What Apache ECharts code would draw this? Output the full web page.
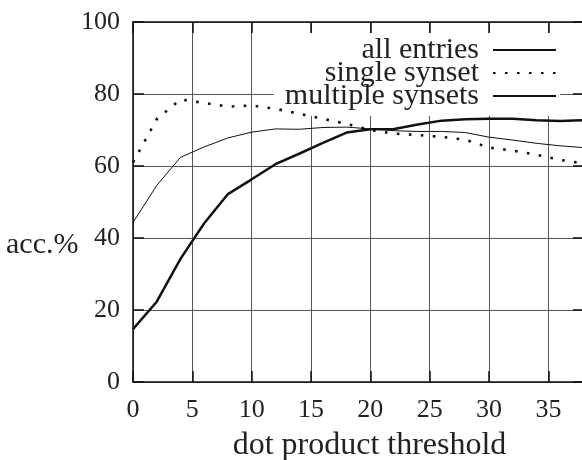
<!DOCTYPE html>
<html>
<head>
<meta charset="utf-8">
<script src="https://cdn.jsdelivr.net/npm/echarts@6/dist/echarts.min.js"></script>
<style>
  html, body { margin: 0; padding: 0; background: #fff; }
  #chart { width: 582px; height: 460px; }
</style>
</head>
<body>
<div id="chart"></div>
<script>
// Threshold values (x) and accuracy per series (%)
const thresholds = [0, 2, 4, 6, 8, 10, 12, 14, 16, 18, 20, 22, 24, 26, 28, 30, 32, 34, 36, 38];
const allEntries = [44.3, 54.6, 62.4, 65.3, 67.8, 69.4, 70.3, 70.2, 70.7, 70.8, 70.3, 69.8, 69.6, 69.6, 69.3, 68.0, 67.2, 66.3, 65.6, 65.1];
const singleSynset = [61.0, 73.0, 78.5, 77.5, 76.5, 76.8, 75.9, 74.5, 73.1, 71.7, 70.0, 69.0, 68.6, 68.1, 67.3, 65.1, 64.3, 63.1, 61.7, 60.7];
const multipleSynsets = [14.7, 22.3, 34.2, 44.1, 52.2, 56.3, 60.5, 63.4, 66.4, 69.3, 70.2, 70.3, 71.5, 72.6, 73.0, 73.1, 73.1, 72.7, 72.5, 72.7];
const seriesNames = ['all entries', 'single synset', 'multiple synsets'];
const xTickLabels = ['0', '5', '10', '15', '20', '25', '30', '35'];
const yTickLabels = ['0', '20', '40', '60', '80', '100'];

const FONT = '"Liberation Serif", "Times New Roman", serif';
const pairs = ys => thresholds.map((x, i) => [x, ys[i]]);

const chart = echarts.init(document.getElementById('chart'), null, { renderer: 'canvas' });

const gridLine = { show: true, lineStyle: { color: '#555', width: 1 } };
const frameLine = { show: true, onZero: false, lineStyle: { color: '#111', width: 1.5 } };
const innerTick = { show: true, inside: true, length: 11, lineStyle: { color: '#111', width: 1.5 } };

chart.setOption({
  animation: false,
  backgroundColor: '#fff',
  grid: {
    left: 133, top: 22, width: 451, height: 360,
    containLabel: false, outerBoundsMode: 'none'
  },
  xAxis: [{
    type: 'value', min: 0, max: 38, interval: 5, position: 'bottom',
    axisLine: frameLine, axisTick: innerTick, splitLine: gridLine,
    axisLabel: {
      fontFamily: FONT, fontSize: 26, color: '#222', margin: 15, showMaxLabel: false,
      formatter: v => xTickLabels[v / 5] ?? ''
    },
    name: 'dot product threshold', nameLocation: 'middle', nameGap: 48,
    nameTextStyle: { fontFamily: FONT, fontSize: 32, color: '#222', padding: [0, 0, 0, 22] }
  }, {
    type: 'value', min: 0, max: 38, interval: 5, position: 'top',
    axisLine: frameLine, axisTick: innerTick, splitLine: { show: false }, axisLabel: { show: false }
  }],
  yAxis: [{
    type: 'value', min: 0, max: 100, interval: 20, position: 'left',
    axisLine: frameLine, axisTick: innerTick, splitLine: gridLine,
    axisLabel: {
      fontFamily: FONT, fontSize: 26, color: '#222', margin: 13,
      formatter: v => yTickLabels[v / 20] ?? ''
    }
  }, {
    type: 'value', min: 0, max: 100, interval: 20, position: 'right',
    axisLine: frameLine, axisTick: innerTick, splitLine: { show: false }, axisLabel: { show: false }
  }],
  legend: {
    orient: 'vertical', align: 'right',
    right: 22, top: 33, z: 1,
    itemWidth: 63, itemHeight: 12, itemGap: -7,
    backgroundColor: '#fff',
    padding: [2, 3, 5, 11],
    itemStyle: { opacity: 0 },
    textStyle: { fontFamily: FONT, fontSize: 30, lineHeight: 25, color: '#222', padding: [0, 9, 0, 0] },
    data: seriesNames
  },
  graphic: [{
    type: 'text', left: 6, top: 230,
    style: { text: 'acc.%', font: '30px ' + FONT, fill: '#222' }
  }],
  series: [{
    name: seriesNames[0], type: 'line', data: pairs(allEntries), z: 3,
    showSymbol: false, symbol: 'none',
    lineStyle: { color: '#111', width: 1 }, itemStyle: { color: '#111' }
  }, {
    name: seriesNames[1], type: 'line', data: pairs(singleSynset), z: 3,
    showSymbol: false, symbol: 'none',
    lineStyle: { color: '#111', width: 2.6, type: [2.6, 9.4], cap: 'butt' }, itemStyle: { color: '#111' }
  }, {
    name: seriesNames[2], type: 'line', data: pairs(multipleSynsets), z: 3,
    showSymbol: false, symbol: 'none',
    lineStyle: { color: '#111', width: 2.5 }, itemStyle: { color: '#111' }
  }]
});
</script>
</body>
</html>
